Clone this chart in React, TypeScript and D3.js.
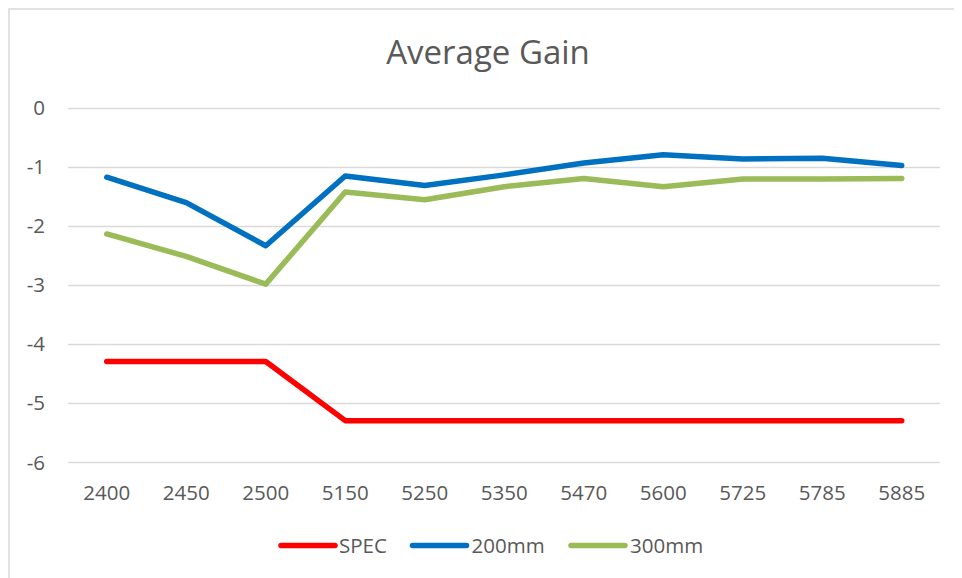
import React from 'react';
import * as d3 from 'd3';

const categories = ['2400', '2450', '2500', '5150', '5250', '5350', '5470', '5600', '5725', '5785', '5885'];
const spec = [-4.3, -4.3, -4.3, -5.3, -5.3, -5.3, -5.3, -5.3, -5.3, -5.3, -5.3];
const mm200 = [-1.18, -1.61, -2.34, -1.16, -1.32, -1.14, -0.94, -0.8, -0.87, -0.86, -0.98];
const mm300 = [-2.14, -2.52, -2.99, -1.43, -1.56, -1.34, -1.2, -1.34, -1.21, -1.21, -1.2];
const yTicks = [0, -1, -2, -3, -4, -5, -6];

const seriesList = [
    { name: 'SPEC', values: spec, color: '#FF0000' },
    { name: '200mm', values: mm200, color: '#0070C0' },
    { name: '300mm', values: mm300, color: '#9BBB59' },
];

const font = '"Open Sans", sans-serif';
const textColor = '#595959';
const gridColor = '#D9D9D9';

const App: React.FC = () => {
    // plot area in page coordinates (svg sits at the 8px body margin)
    const plot = { left: 67, right: 941.5, top: 107.5, bottom: 462 };

    const xScale = d3.scalePoint<string>()
        .domain(categories)
        .range([plot.left, plot.right])
        .padding(0.5);

    const yScale = d3.scaleLinear()
        .domain([-6, 0])
        .range([plot.bottom, plot.top]);

    const line = d3.line<number>()
        .x((_, i) => xScale(categories[i]) as number)
        .y(d => yScale(d));

    // legend layout
    const legendY = 545.5;
    const legendItems = [
        { x: 281, textX: 339 },
        { x: 412.5, textX: 471.5 },
        { x: 571, textX: 630 },
    ];

    return (
        <svg width={954} height={570} style={{ display: 'block' }}>
            <g transform="translate(-8,-8)">
                <rect x={8} y={8} width={962} height={578} fill="#fff" />
                {/* chart border */}
                <rect x={9} y={9} width={1000} height={1000} fill="none" stroke={gridColor} strokeWidth={1.5} />

                <text x={488} y={64} textAnchor="middle" fontFamily={font} fontSize={33} fill={textColor}>
                    Average Gain
                </text>

                {/* grid + y labels */}
                {yTicks.map(t => (
                    <g key={t}>
                        <line x1={68} x2={940} y1={Math.round(yScale(t)) + 0.5} y2={Math.round(yScale(t)) + 0.5}
                            stroke={gridColor} strokeWidth={1.5} />
                        <text x={45} y={yScale(t) + 7.5} textAnchor="end" fontFamily={font} fontSize={20.5} fill={textColor}>
                            {t === 0 ? '0' : `-${Math.abs(t)}`}
                        </text>
                    </g>
                ))}

                {/* x labels */}
                {categories.map(c => (
                    <text key={c} x={xScale(c)} y={500} textAnchor="middle" fontFamily={font} fontSize={20.5} fill={textColor}>
                        {c}
                    </text>
                ))}

                {/* series lines */}
                {seriesList.map(s => (
                    <path key={s.name} d={line(s.values) || ''} fill="none" stroke={s.color}
                        strokeWidth={5.5} strokeLinecap="round" strokeLinejoin="round" />
                ))}

                {/* legend */}
                {seriesList.map((s, i) => (
                    <g key={s.name}>
                        <line x1={legendItems[i].x} x2={legendItems[i].x + 54} y1={legendY} y2={legendY}
                            stroke={s.color} strokeWidth={5.5} strokeLinecap="round" />
                        <text x={legendItems[i].textX} y={legendY + 7.5} fontFamily={font} fontSize={20.5} fill={textColor}>
                            {s.name}
                        </text>
                    </g>
                ))}
            </g>
        </svg>
    );
};

export default App;
